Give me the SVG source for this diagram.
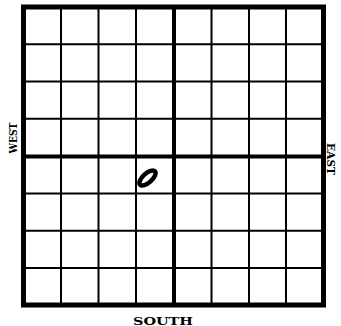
<svg xmlns="http://www.w3.org/2000/svg" width="341" height="326" viewBox="0 0 341 326">
<style>
.thin{stroke:#000;stroke-width:2;fill:none}
.thick{stroke:#000;stroke-width:4;fill:none}
.border{stroke:#000;stroke-width:5;fill:none}
.lbl{font-family:"DejaVu Serif",serif;font-weight:bold;font-size:11.5px;fill:#000}
</style>
<rect width="341" height="326" fill="#fff"/>
<g id="grid">
<path class="thin" d="M61 7V305M98.5 7V305M136 7V305M211.5 7V305M249 7V305M286 7V305M23.5 44.2H323.5M23.5 81.5H323.5M23.5 118.8H323.5M23.5 193.5H323.5M23.5 230.8H323.5M23.5 268H323.5"/>
<path class="thick" d="M174 7V305M23.5 156.5H323.5"/>
<rect class="border" x="23.5" y="7" width="300" height="298"/>
</g>
<g id="marker">
<ellipse cx="147.5" cy="178" rx="10" ry="4.6" transform="rotate(-42 147.5 178)" fill="#fff" stroke="#000" stroke-width="4.5"/>
</g>
<g id="labels">
<text class="lbl" x="0" y="0" text-anchor="middle" textLength="31" lengthAdjust="spacingAndGlyphs" transform="translate(16.5 138) rotate(-90)">WEST</text>
<text class="lbl" x="0" y="0" text-anchor="middle" textLength="32" lengthAdjust="spacingAndGlyphs" transform="translate(327 159) rotate(90)">EAST</text>
<text class="lbl" x="163" y="324.5" text-anchor="middle" textLength="60" lengthAdjust="spacingAndGlyphs">SOUTH</text>
</g>
</svg>
